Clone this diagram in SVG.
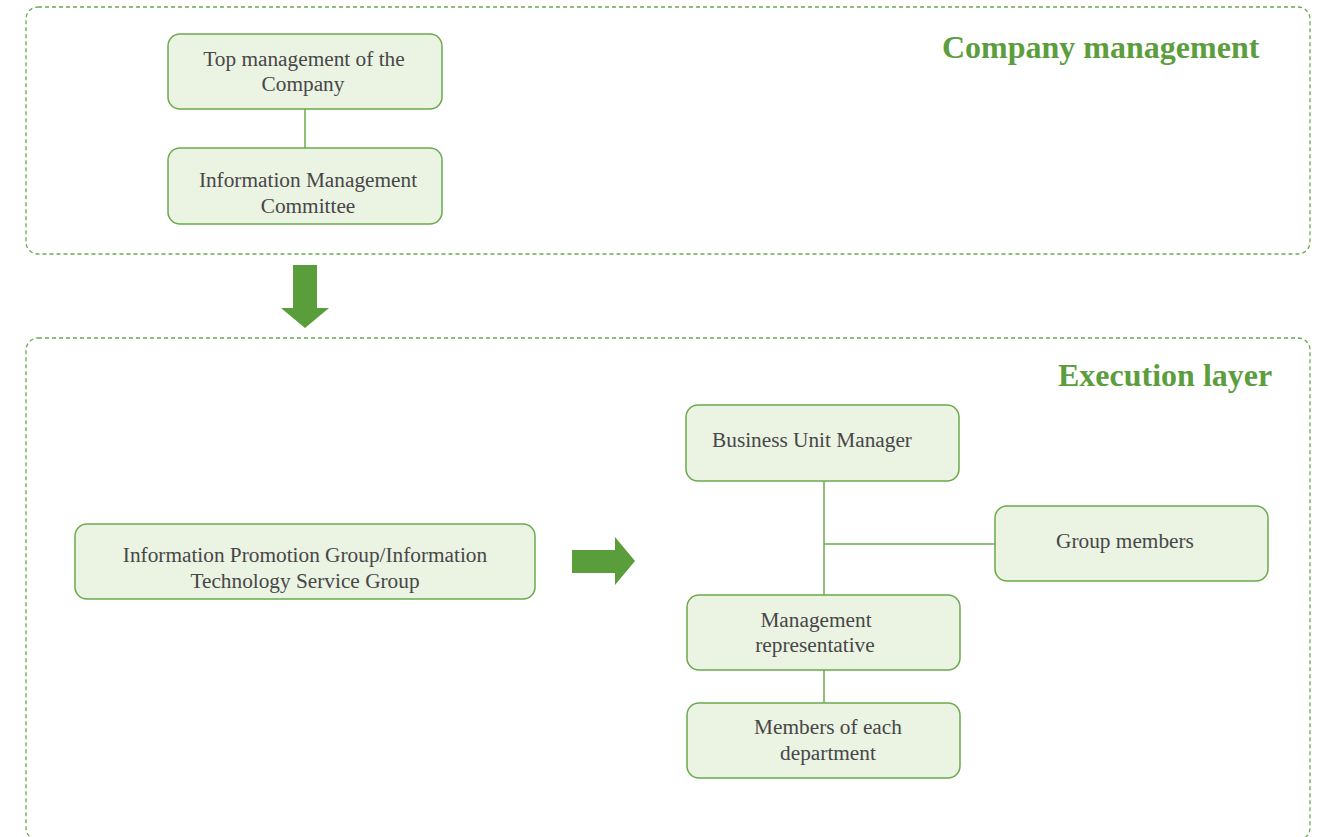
<svg xmlns="http://www.w3.org/2000/svg" width="1325" height="837" viewBox="0 0 1325 837">
  <style>
    .layer { fill: none; stroke: #6aaa4c; stroke-width: 1.3; stroke-dasharray: 4 3; }
    .node rect { fill: #ebf3e3; stroke: #6aaa4c; stroke-width: 1.5; }
    .node text { font-family: "Liberation Serif", "Times New Roman", serif; font-size: 21.3px; fill: #474747; text-anchor: middle; }
    .title { font-family: "Liberation Serif", "Times New Roman", serif; font-size: 32px; font-weight: bold; fill: #5c9e3e; }
    .link { stroke: #6aaa4c; stroke-width: 1.5; fill: none; }
    .bigarrow { fill: #5a9e3c; }
  </style>
  <rect width="1325" height="837" fill="#ffffff"/>

  <!-- layer frames -->
  <g id="layers">
    <rect class="layer" x="26" y="7" width="1284" height="247" rx="12"/>
    <rect class="layer" x="26" y="338" width="1284" height="502" rx="12"/>
    <text class="title" x="942" y="58">Company management</text>
    <text class="title" x="1058" y="386">Execution layer</text>
  </g>

  <!-- block arrows between stages -->
  <g id="flow-arrows">
    <polygon class="bigarrow" points="293,265 317,265 317,308 329,308 305,328 281,308 293,308"/>
    <polygon class="bigarrow" points="572,550 615,550 615,537 635,561 615,585 615,573 572,573"/>
  </g>

  <!-- connectors -->
  <g id="connectors">
    <line class="link" x1="305" y1="109" x2="305" y2="148"/>
    <line class="link" x1="824" y1="481" x2="824" y2="595"/>
    <line class="link" x1="824" y1="544" x2="995" y2="544"/>
    <line class="link" x1="824" y1="670" x2="824" y2="703"/>
  </g>

  <g id="top-management" class="node">
    <rect x="168" y="34" width="274" height="75" rx="12"/>
    <text x="304" y="66">Top management of the</text>
    <text x="303" y="91">Company</text>
  </g>

  <g id="info-committee" class="node">
    <rect x="168" y="148" width="274" height="76" rx="12"/>
    <text x="308" y="187">Information Management</text>
    <text x="308" y="213">Committee</text>
  </g>

  <g id="promotion-group" class="node">
    <rect x="75" y="524" width="460" height="75" rx="12"/>
    <text x="305" y="562">Information Promotion Group/Information</text>
    <text x="305" y="588">Technology Service Group</text>
  </g>

  <g id="bu-manager" class="node">
    <rect x="686" y="405" width="273" height="76" rx="12"/>
    <text x="812" y="447">Business Unit Manager</text>
  </g>

  <g id="group-members" class="node">
    <rect x="995" y="506" width="273" height="75" rx="12"/>
    <text x="1125" y="548">Group members</text>
  </g>

  <g id="mgmt-rep" class="node">
    <rect x="687" y="595" width="273" height="75" rx="12"/>
    <text x="816" y="627">Management</text>
    <text x="815" y="652">representative</text>
  </g>

  <g id="dept-members" class="node">
    <rect x="687" y="703" width="273" height="75" rx="12"/>
    <text x="828" y="734">Members of each</text>
    <text x="828" y="760">department</text>
  </g>
</svg>
